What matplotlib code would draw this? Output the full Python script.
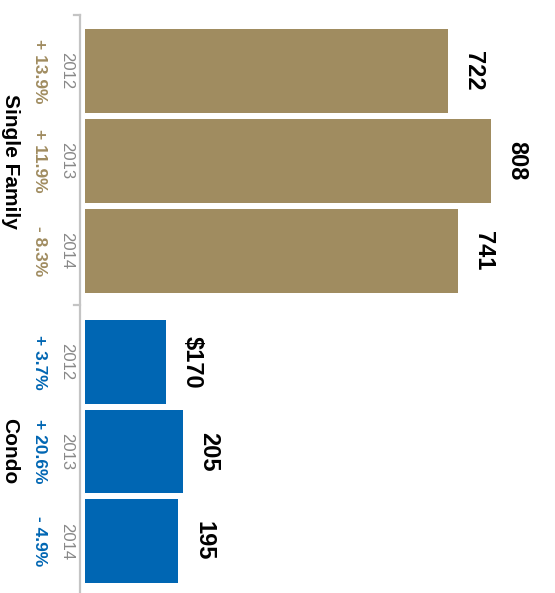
import matplotlib
matplotlib.use('Agg')
import matplotlib.pyplot as plt
from matplotlib.lines import Line2D

plt.rcParams['font.family'] = ['Liberation Sans', 'DejaVu Sans']

# median sale price ($K), by year
years = ['2012', '2013', '2014']
single_vals = [722, 808, 741]
single_labels = ['722', '808', '741']
single_change = ['+ 13.9%', '+ 11.9%', '- 8.3%']
condo_vals = [170, 205, 195]
condo_labels = ['$170', '205', '195']
condo_change = ['+ 3.7%', '+ 20.6%', '- 4.9%']

tan = '#a08c60'
blue = '#0066b3'
W, H = 555, 593

fig = plt.figure(figsize=(W / 100, H / 100), dpi=100)

def px(x, y):
    # pixel position (from top-left) -> figure fraction
    return x / W, 1 - y / H

def group(top, bottom, vals, labels, changes, color, name, xmax):
    ax = fig.add_axes([85 / W, 1 - bottom / H, 470 / W, (bottom - top) / H])
    h = 0.935
    pos = range(len(vals))
    ax.barh(pos, vals, height=h, color=color)
    ax.set_xlim(0, xmax)
    ax.set_ylim(len(vals) - 1 + h / 2, -h / 2)
    ax.axis('off')
    # value labels past the bar ends
    for p, v, lab in zip(pos, vals, labels):
        ax.annotate(lab, (v, p), xytext=(13.7, 0), textcoords='offset points',
                    rotation=-90, rotation_mode='anchor', ha='center',
                    va='baseline', fontsize=17, fontweight='bold', color='black')
    # year and change labels left of the axis line
    to_fig = fig.transFigure.inverted()
    for p, yr, ch in zip(pos, years, changes):
        yfig = to_fig.transform(ax.transData.transform((0, p)))[1]
        fig.text(62 / W, yfig, yr, rotation=-90, rotation_mode='anchor',
                 ha='center', va='baseline', fontsize=12, color='#888888')
        fig.text(35 / W, yfig, ch, rotation=-90, rotation_mode='anchor',
                 ha='center', va='baseline', fontsize=12.5, fontweight='bold',
                 color=color)
    fig.text(4.5 / W, 1 - (top + bottom) / 2 / H, name, rotation=-90,
             rotation_mode='anchor', ha='center', va='baseline', fontsize=15,
             fontweight='bold', color='black')

group(29, 293, single_vals, single_labels, single_change, tan, 'Single Family', 470 / 0.503)
group(320, 583, condo_vals, condo_labels, condo_change, blue, 'Condo', 470 / 0.478)

# axis line with group separators
gray = '#c4c4c4'
fig.add_artist(Line2D(*zip(px(80, 15), px(80, 593)), color=gray, lw=1.6))
for ty in (15, 305):
    fig.add_artist(Line2D(*zip(px(74, ty), px(80, ty)), color=gray, lw=1.6))

fig.savefig('out.png', dpi=100)
